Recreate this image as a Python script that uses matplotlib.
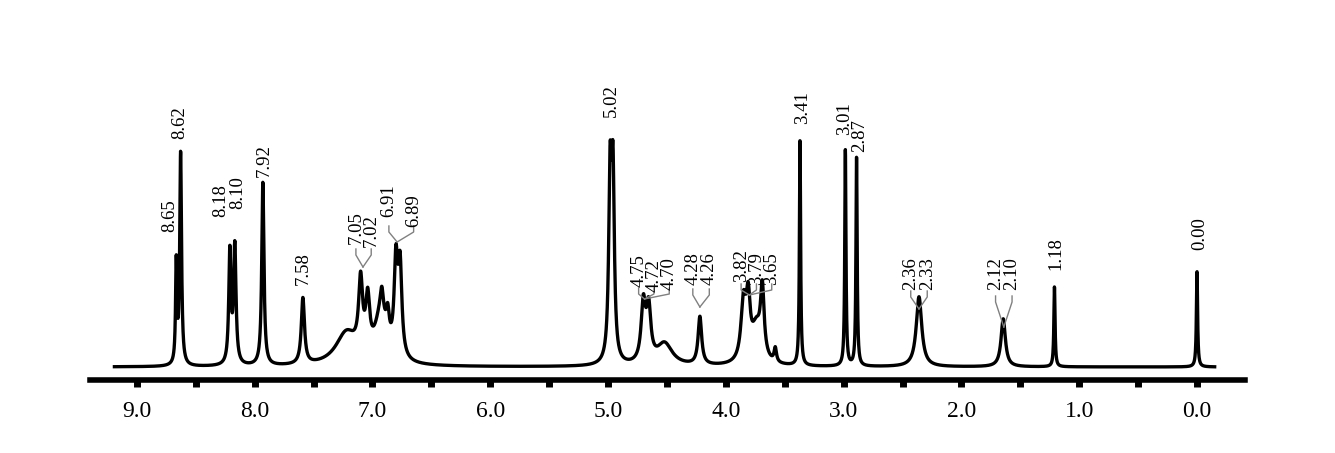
import numpy as np
import matplotlib
matplotlib.use("Agg")
import matplotlib.pyplot as plt

# peak parameters: centre (ppm), height (a.u.), half width (ppm)
centers = [8.665, 8.628, 8.21, 8.168, 7.93, 7.59,
           7.22, 7.10, 7.04, 6.93, 6.92, 6.87, 6.80, 6.765,
           4.982, 4.958, 4.70, 4.655, 4.52, 4.22,
           3.85, 3.81, 3.74, 3.69, 3.58, 3.37, 2.985, 2.89,
           2.36, 1.645, 1.21, 0.0]
heights = [100, 212, 112, 118, 183, 66,
           32, 70, 52, 45, 25, 27, 92, 88,
           178, 178, 58, 52, 22, 48,
           58, 55, 35, 66, 14, 226, 216, 210,
           70, 48, 80, 96]
widths = [0.007, 0.009, 0.011, 0.012, 0.011, 0.016,
          0.11, 0.02, 0.02, 0.06, 0.016, 0.016, 0.018, 0.018,
          0.014, 0.014, 0.022, 0.022, 0.08, 0.018,
          0.025, 0.02, 0.05, 0.018, 0.012, 0.006, 0.006, 0.006,
          0.028, 0.022, 0.006, 0.006]

labels = ["8.65", "8.62", "8.18", "8.10", "7.92", "7.58", "7.05", "7.02", "6.91", "6.89",
          "5.02", "4.75", "4.72", "4.70", "4.28", "4.26", "3.82", "3.79", "3.65",
          "3.41", "3.01", "2.87", "2.36", "2.33", "2.12", "2.10", "1.18", "0.00"]
label_x = [8.72, 8.635, 8.285, 8.14, 7.92, 7.59, 7.14, 7.01, 6.86, 6.65,
           4.97, 4.74, 4.61, 4.48, 4.28, 4.14, 3.87, 3.74, 3.61,
           3.35, 2.99, 2.86, 2.43, 2.29, 1.71, 1.57, 1.20, -0.02]
label_y = [135, 228, 150, 158, 190, 82, 123, 120, 150, 140,
           250, 80, 75, 77, 82, 82, 85, 82, 82,
           243, 232, 215, 77, 77, 77, 77, 97, 117]

ticks = [9.0, 8.0, 7.0, 6.0, 5.0, 4.0, 3.0, 2.0, 1.0, 0.0]

x = np.linspace(9.19, -0.15, 8000)
y = np.zeros_like(x)
for c, h, w in zip(centers, heights, widths):
    y += h * w**2 / ((x - c)**2 + w**2)

plt.rcParams['font.family'] = ['Liberation Serif', 'DejaVu Serif']
fig = plt.figure(figsize=(13.35, 4.53), dpi=100)
ax = fig.add_axes([90/1335, 1-380/453, (1245-90)/1335, 320/453])
ax.plot(x, y, color='black', lw=2.4)
ax.set_xlim((1197-90)/117.8, (1197-1245)/117.8)
ax.set_ylim(-13, 307)
for s in ['top', 'left', 'right']:
    ax.spines[s].set_visible(False)
ax.spines['bottom'].set_linewidth(4)
ax.set_yticks([])
ax.set_xticks(ticks)
ax.set_xticklabels([f"{t:.1f}" for t in ticks])
ax.set_xticks(np.arange(9.0, -0.01, -0.5), minor=True)
ax.tick_params(axis='x', which='both', direction='out', length=5, width=5, pad=10)
ax.tick_params(axis='x', which='major', labelsize=17)
for t, lx, ly in zip(labels, label_x, label_y):
    ax.text(lx, ly, t, rotation=90, ha='center', va='bottom', fontsize=13.5)
# bracket marks for grouped labels
groups = [([7.14, 7.01], 7.08, 100, 112), ([6.86, 6.65], 6.79, 125, 135),
          ([4.74, 4.61, 4.48], 4.69, 68, 73), ([4.28, 4.14], 4.22, 60, 72),
          ([3.87, 3.74, 3.61], 3.80, 72, 77), ([2.43, 2.29], 2.36, 58, 70),
          ([1.71, 1.57], 1.64, 40, 65)]
for xs, px, y0, y1 in groups:
    for lx in xs:
        ax.plot([lx, lx, px], [y1 + 6, y1, y0], color='gray', lw=1)
fig.savefig("out.png", dpi=100)
